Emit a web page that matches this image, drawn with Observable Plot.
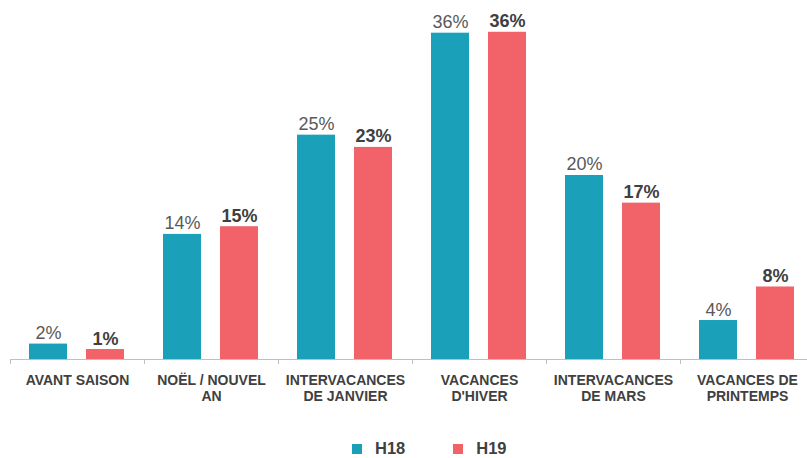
<!DOCTYPE html>
<html>
<head>
<meta charset="utf-8">
<script src="https://cdn.jsdelivr.net/npm/d3@7"></script>
<script src="https://cdn.jsdelivr.net/npm/@observablehq/plot@0.6"></script>
<style>
  html, body { margin: 0; padding: 0; background: #fff; }
  #wrap { position: relative; width: 807px; height: 458px; font-family: "Liberation Sans", Arial, sans-serif; }
  #legend { position: absolute; left: 352px; top: 439px; display: flex; align-items: center; font-weight: bold; font-size: 16.5px; line-height: normal; color: #404040; }
  .item { display: flex; align-items: center; }
  .sw { width: 10px; height: 10px; margin-right: 13px; }
</style>
</head>
<body>
<div id="wrap">
  <div id="chart"></div>
  <div id="legend"></div>
</div>
<script>
const categories = ["AVANT SAISON", "NOËL / NOUVEL AN", "INTERVACANCES DE JANVIER", "VACANCES D'HIVER", "INTERVACANCES DE MARS", "VACANCES DE PRINTEMPS"];
const tickLabels = ["AVANT SAISON", "NOËL / NOUVEL\nAN", "INTERVACANCES\nDE JANVIER", "VACANCES\nD'HIVER", "INTERVACANCES\nDE MARS", "VACANCES DE\nPRINTEMPS"];
const seriesNames = ["H18", "H19"];
const h18 = [1.7, 13.8, 24.75, 36.0, 20.3, 4.3];
const h19 = [1.1, 14.65, 23.4, 36.1, 17.25, 8.0];
const colors = ["#1aa0b8", "#f26369"];

const rows = [];
categories.forEach((c, i) => {
  rows.push({cat: c, series: "H18", value: h18[i]});
  rows.push({cat: c, series: "H19", value: h19[i]});
});
const labelOf = new Map(categories.map((c, i) => [c, tickLabels[i]]));
const pct = d => `${Math.round(d.value)}%`;

const chart = Plot.plot({
  width: 807,
  height: 420,
  marginLeft: 10,
  marginRight: -7,
  marginTop: 20,
  marginBottom: 61,
  style: {fontFamily: "Liberation Sans, Arial, sans-serif", fontSize: "14px", fontWeight: "bold", color: "#404040", background: "white"},
  fx: {domain: categories, padding: 0, label: null},
  x: {domain: seriesNames, padding: 0.33, axis: null},
  y: {domain: [0, 37.4], axis: null},
  color: {domain: seriesNames, range: colors},
  marks: [
    Plot.barY(rows, {fx: "cat", x: "series", y: "value", fill: "series"}),
    Plot.ruleY([0], {stroke: "#bfbfbf", strokeWidth: 1}),
    Plot.ruleY([0], {
      render: (index, scales, values, dimensions) => {
        const y0 = scales.y(0);
        const g = d3.create("svg:g");
        g.append("line")
          .attr("x1", dimensions.marginLeft + 0.5).attr("x2", dimensions.marginLeft + 0.5)
          .attr("y1", y0).attr("y2", y0 + 5)
          .attr("stroke", "#bfbfbf");
        return g.node();
      }
    }),
    Plot.text(rows.filter(d => d.series === "H18"), {fx: "cat", x: "series", y: "value", text: pct, lineAnchor: "bottom", dy: -5, fontSize: 18, fontWeight: "normal", fill: "#595959"}),
    Plot.text(rows.filter(d => d.series === "H19"), {fx: "cat", x: "series", y: "value", text: pct, lineAnchor: "bottom", dy: -5, fontSize: 18, fontWeight: "bold", fill: "#404040"}),
    Plot.axisFx({anchor: "bottom", tickSize: 0, tickPadding: 14, tickFormat: c => labelOf.get(c), label: null, fontSize: 14, fontWeight: "bold", lineHeight: 1.15, fill: "#404040"})
  ]
});
document.getElementById("chart").appendChild(chart);

const legend = document.getElementById("legend");
seriesNames.forEach((s, i) => {
  const item = document.createElement("div");
  item.className = "item";
  if (i > 0) item.style.marginLeft = "48px";
  const sw = document.createElement("span");
  sw.className = "sw";
  sw.style.background = colors[i];
  const t = document.createElement("span");
  t.textContent = s;
  item.appendChild(sw);
  item.appendChild(t);
  legend.appendChild(item);
});
</script>
</body>
</html>
